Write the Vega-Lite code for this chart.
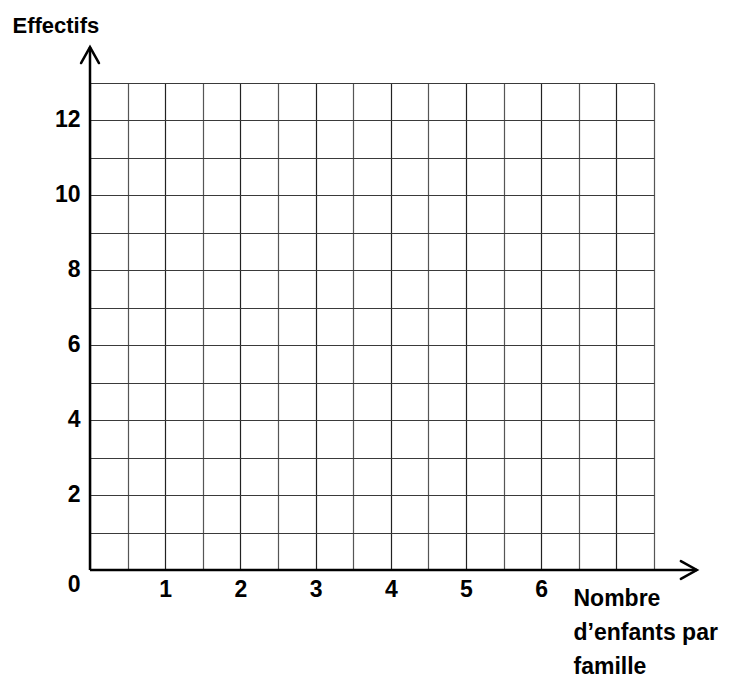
{
  "$schema": "https://vega.github.io/schema/vega-lite/v6.json",
  "width": 564,
  "height": 487,
  "autosize": {"type": "none"},
  "padding": {"left": 90, "top": 83, "right": 76, "bottom": 109},
  "background": "white",
  "config": {
    "view": {"stroke": null},
    "axisX": {
      "domain": false,
      "ticks": false,
      "tickSize": 0,
      "grid": true,
      "gridWidth": 1.2,
      "gridColor": {"condition": {"test": "datum.value % 1 == 0", "value": "#222222"}, "value": "#555555"},
      "labelFont": "Liberation Sans",
      "labelFontWeight": "bold",
      "labelFontSize": 23,
      "labelColor": "black",
      "labelPadding": 8,
      "labelBaseline": "top",
      "labelFlush": false,
      "labelOverlap": false,
      "titleFont": "Liberation Sans",
      "titleFontWeight": "bold",
      "titleFontSize": 23,
      "titleColor": "black",
      "titleAlign": "left",
      "titleAnchor": "start",
      "titleBaseline": "alphabetic",
      "titleLineHeight": 34,
      "titleX": 483,
      "titleY": 35
    },
    "axisY": {
      "domain": false,
      "ticks": false,
      "tickSize": 0,
      "grid": true,
      "gridWidth": 1.2,
      "gridColor": "#3a3a3a",
      "labelFont": "Liberation Sans",
      "labelFontWeight": "bold",
      "labelFontSize": 23,
      "labelColor": "black",
      "labelPadding": 10,
      "labelBaseline": "middle",
      "labelOffset": {"condition": {"test": "datum.value == 0", "value": 14}, "value": -1},
      "labelFlush": false,
      "labelOverlap": false,
      "titleFont": "Liberation Sans",
      "titleFontWeight": "bold",
      "titleFontSize": 22,
      "titleColor": "black",
      "titleAngle": 0,
      "titleAlign": "left",
      "titleBaseline": "alphabetic",
      "titleX": -78,
      "titleY": -51
    }
  },
  "datasets": {
    "axes": [
      {"axe": "x", "x": 0, "y": 0, "x2": 8.07, "y2": 0},
      {"axe": "y", "x": 0, "y": 0, "x2": 0, "y2": 13.96}
    ]
  },
  "data": {"name": "axes"},
  "layer": [
    {
      "mark": {"type": "rule", "color": "black", "strokeWidth": 2.5, "clip": false},
      "encoding": {
        "x": {
          "field": "x", "type": "quantitative",
          "scale": {"domain": [0, 7.5], "nice": false, "zero": false},
          "axis": {
            "values": [0, 0.5, 1, 1.5, 2, 2.5, 3, 3.5, 4, 4.5, 5, 5.5, 6, 6.5, 7, 7.5],
            "labelExpr": "datum.value >= 1 && datum.value <= 6 && datum.value % 1 == 0 ? '' + datum.value : ''",
            "title": ["Nombre", "d’enfants par", "famille"]
          }
        },
        "y": {
          "field": "y", "type": "quantitative",
          "scale": {"domain": [0, 13], "nice": false, "zero": false},
          "axis": {
            "values": [0, 1, 2, 3, 4, 5, 6, 7, 8, 9, 10, 11, 12, 13],
            "labelExpr": "datum.value % 2 == 0 && datum.value <= 12 ? '' + datum.value : ''",
            "title": "Effectifs"
          }
        },
        "x2": {"field": "x2"},
        "y2": {"field": "y2"}
      }
    },
    {
      "mark": {"type": "point", "filled": false, "color": "black", "strokeWidth": 2.5, "size": 1024, "opacity": 1, "clip": false, "strokeCap": "round", "strokeJoin": "miter"},
      "encoding": {
        "x": {
          "field": "x2", "type": "quantitative",
          "scale": {"domain": [0, 7.5], "nice": false, "zero": false},
          "axis": {
            "values": [0, 0.5, 1, 1.5, 2, 2.5, 3, 3.5, 4, 4.5, 5, 5.5, 6, 6.5, 7, 7.5],
            "labelExpr": "datum.value >= 1 && datum.value <= 6 && datum.value % 1 == 0 ? '' + datum.value : ''",
            "title": ["Nombre", "d’enfants par", "famille"]
          }
        },
        "y": {
          "field": "y2", "type": "quantitative",
          "scale": {"domain": [0, 13], "nice": false, "zero": false},
          "axis": {
            "values": [0, 1, 2, 3, 4, 5, 6, 7, 8, 9, 10, 11, 12, 13],
            "labelExpr": "datum.value % 2 == 0 && datum.value <= 12 ? '' + datum.value : ''",
            "title": "Effectifs"
          }
        },
        "shape": {
          "field": "axe", "type": "nominal",
          "scale": {"domain": ["x", "y"], "range": ["M -1 -0.56 L 0 0 L -1 0.56", "M -0.56 1 L 0 0 L 0.56 1"]},
          "legend": null
        }
      }
    }
  ]
}
